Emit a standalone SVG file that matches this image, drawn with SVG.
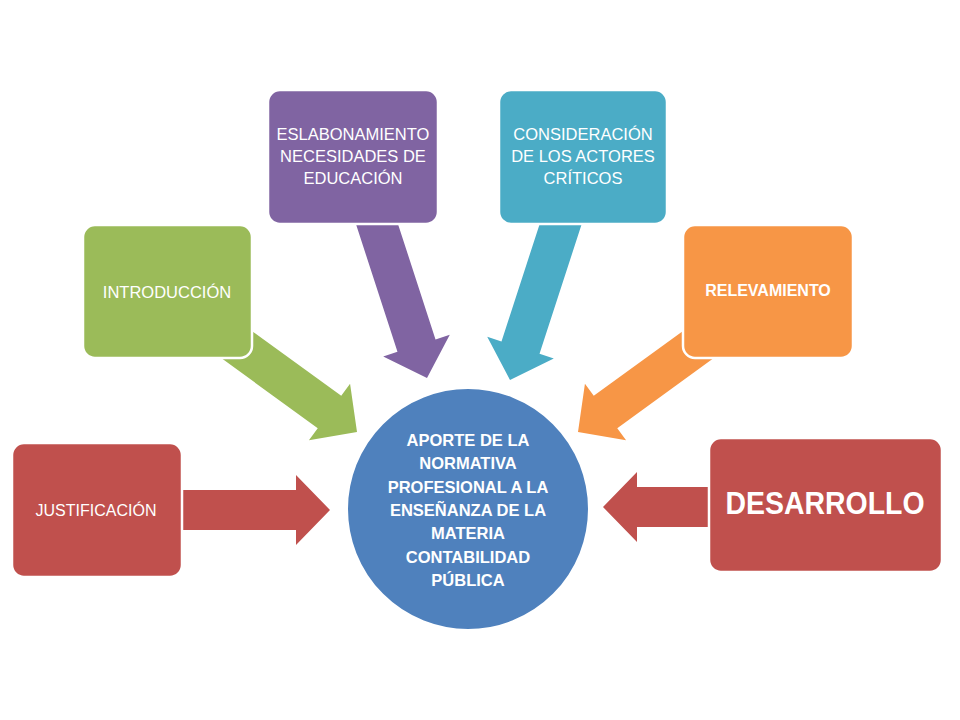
<svg xmlns="http://www.w3.org/2000/svg" width="960" height="720" viewBox="0 0 960 720">
<style>
.box{stroke:#FFFFFF;stroke-width:2.5}
.t{font-family:"Liberation Sans",Arial,sans-serif;font-size:16.5px;fill:#FFFFFF;text-anchor:middle}
.b{font-weight:bold}
</style>
<defs>
<polygon id="arr" points="0,0 -34,-35 -34,-20 -175,-20 -175,20 -34,20 -34,35"/>
</defs>
<rect width="960" height="720" fill="#FFFFFF"/>
<g id="connectors">
<use href="#arr" fill="#C0504D" transform="translate(330,510)"/>
<use href="#arr" fill="#9BBB59" transform="translate(357,432) rotate(36)"/>
<use href="#arr" fill="#8064A2" transform="translate(427,378) rotate(72)"/>
<use href="#arr" fill="#4BACC6" transform="translate(510,380) rotate(108)"/>
<use href="#arr" fill="#F79646" transform="translate(578,432) rotate(144)"/>
<use href="#arr" fill="#C0504D" transform="translate(603,507) rotate(180)"/>
</g>
<g id="justificacion">
<rect class="box" x="12" y="443" width="170" height="134" rx="12" fill="#C0504D"/>
<text class="t" x="96" y="516" style="font-size:16px">JUSTIFICACIÓN</text>
</g>
<g id="introduccion">
<rect class="box" x="83" y="225" width="169" height="133" rx="12" fill="#9BBB59"/>
<text class="t" x="167" y="298">INTRODUCCIÓN</text>
</g>
<g id="eslabonamiento">
<rect class="box" x="268" y="90" width="170" height="134" rx="12" fill="#8064A2"/>
<text class="t" x="353" y="140">ESLABONAMIENTO</text>
<text class="t" x="353" y="162">NECESIDADES DE</text>
<text class="t" x="353" y="184">EDUCACIÓN</text>
</g>
<g id="consideracion">
<rect class="box" x="499" y="90" width="168" height="134" rx="12" fill="#4BACC6"/>
<text class="t" x="583" y="140">CONSIDERACIÓN</text>
<text class="t" x="583" y="162">DE LOS ACTORES</text>
<text class="t" x="583" y="184">CRÍTICOS</text>
</g>
<g id="relevamiento">
<rect class="box" x="683" y="225" width="170" height="133" rx="12" fill="#F79646"/>
<text class="t b" x="768" y="296" style="font-size:16px">RELEVAMIENTO</text>
</g>
<g id="desarrollo">
<rect class="box" x="709" y="438" width="233" height="134" rx="12" fill="#C0504D"/>
<text class="t b" x="825" y="514" style="font-size:31px" textLength="199" lengthAdjust="spacingAndGlyphs">DESARROLLO</text>
</g>
<g id="centro">
<circle cx="468" cy="509" r="121" fill="#4F81BD" stroke="#FFFFFF" stroke-width="2"/>
<text class="t b" x="468" y="446">APORTE DE LA</text>
<text class="t b" x="468" y="469">NORMATIVA</text>
<text class="t b" x="468" y="493">PROFESIONAL A LA</text>
<text class="t b" x="468" y="516">ENSEÑANZA DE LA</text>
<text class="t b" x="468" y="539">MATERIA</text>
<text class="t b" x="468" y="563">CONTABILIDAD</text>
<text class="t b" x="468" y="586">PÚBLICA</text>
</g>
</svg>
